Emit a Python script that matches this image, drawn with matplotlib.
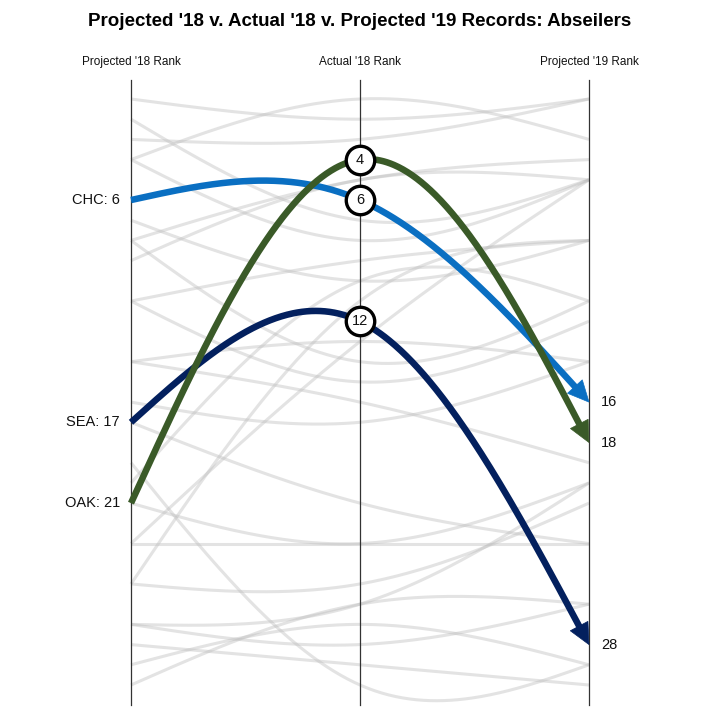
import numpy as np
import matplotlib
matplotlib.use("Agg")
import matplotlib.pyplot as plt
from matplotlib.patches import Polygon

plt.rcParams['font.family'] = ['Liberation Sans', 'DejaVu Sans']

title = "Projected '18 v. Actual '18 v. Projected '19 Records: Abseilers"
axis_labels = ["Projected '18 Rank", "Actual '18 Rank", "Projected '19 Rank"]

# highlighted teams
hl_teams = ["CHC", "SEA", "OAK"]
hl_proj18 = [6, 17, 21]
hl_act18 = [6, 12, 4]
hl_proj19 = [16, 28, 18]
hl_colors = ["#0a6fc2", "#03205e", "#3a5a28"]

# background teams (projected '18, actual '18, projected '19)
bg_proj18 = [1, 2, 3, 4, 4, 7, 8, 8, 9, 11, 11, 14, 14, 16, 17, 19, 20, 21, 23, 23, 25, 25, 27, 27, 28, 29, 30]
bg_act18 = [2, 7, 3, 1, 8, 10, 5, 14, 5, 9, 15, 13, 16, 17, 21, 30, 10, 23, 23, 13, 25, 11, 28, 26, 29, 27, 26]
bg_proj19 = [1, 5, 1, 3, 5, 8, 4, 11, 5, 8, 12, 14, 19, 14, 23, 29, 11, 20, 23, 5, 21, 8, 26, 20, 30, 29, 26]


def natural_spline(ys, n=200):
    ys = np.asarray(ys, float)
    k = len(ys)
    A = np.zeros((k, k))
    b = np.zeros(k)
    A[0, 0] = 1
    A[-1, -1] = 1
    for i in range(1, k - 1):
        A[i, i - 1] = 1
        A[i, i] = 4
        A[i, i + 1] = 1
        b[i] = 6 * (ys[i - 1] - 2 * ys[i] + ys[i + 1])
    M = np.linalg.solve(A, b)
    xx = np.linspace(0, k - 1, n)
    yy = np.empty_like(xx)
    for j, x in enumerate(xx):
        i = min(int(np.floor(x)), k - 2)
        t = x - i
        yy[j] = (M[i] * (1 - t) ** 3 / 6 + M[i + 1] * t ** 3 / 6
                 + (ys[i] - M[i] / 6) * (1 - t) + (ys[i + 1] - M[i + 1] / 6) * t)
    return xx, yy


W = H = 720
fig = plt.figure(figsize=(7.2, 7.2), dpi=100)
ax = fig.add_axes([0, 0, 1, 1])
px0, px_step = 131, 229.0
py0, py_step = 99, 20.207
ax.set_xlim(-px0 / px_step, (W - px0) / px_step)
ax.set_ylim(1 + (H - py0) / py_step, 1 - py0 / py_step)
ax.axis('off')

# axes lines
top_r = 1 + (80 - py0) / py_step
bot_r = 1 + (705 - py0) / py_step
for i in range(3):
    ax.plot([i, i], [top_r, bot_r], color='#333333', lw=0.9, zorder=2)

# header labels
for i, lab in enumerate(axis_labels):
    ax.text(i, 1 + (62 - py0) / py_step, lab, ha='center', va='center', fontsize=8.5, color='#111111')

fig.text(0.5, 1 - 22 / H, title, ha='center', va='center', fontsize=13.5, fontweight='bold')

# background lines
for a, b, c in zip(bg_proj18, bg_act18, bg_proj19):
    xx, yy = natural_spline([a, b, c])
    ax.plot(xx, yy, color='#bdbdbd', alpha=0.42, lw=2.2, zorder=1, solid_capstyle='butt')

fig.canvas.draw()
to_disp = ax.transData
to_data = ax.transData.inverted()

head_len, head_w = 21, 20
for team, a, b, c, col in zip(hl_teams, hl_proj18, hl_act18, hl_proj19, hl_colors):
    xx, yy = natural_spline([a, b, c], n=400)
    pts = to_disp.transform(np.column_stack([xx, yy]))
    tip = pts[-1]
    d = np.hypot(pts[:, 0] - tip[0], pts[:, 1] - tip[1])
    keep = d > head_len * 0.6
    base_idx = np.where(d > head_len)[0][-1]
    v = tip - pts[base_idx]
    v = v / np.hypot(*v)
    nrm = np.array([-v[1], v[0]])
    base = tip - head_len * v
    tri = np.array([tip, base + nrm * head_w / 2, base - nrm * head_w / 2])
    tri_d = to_data.transform(tri)
    ax.plot(xx[keep], yy[keep], color=col, lw=4.7, zorder=4, solid_capstyle='butt')
    ax.add_patch(Polygon(tri_d, closed=True, facecolor=col, edgecolor=col, lw=0.5, zorder=4))
    ax.text(-11 / px_step, a, f"{team}: {a}", ha='right', va='center', fontsize=10.5, color='#111111')
    ax.text(2 + 12 / px_step, c, f"{c}", ha='left', va='center', fontsize=10.5, color='#111111')
    ax.plot([1], [b], marker='o', markersize=20.5, markerfacecolor='white',
            markeredgecolor='black', markeredgewidth=2.4, zorder=6)
    ax.text(1, b, f"{b}", ha='center', va='center', fontsize=10.5, color='#111111', zorder=7)

fig.savefig("out.png", dpi=100)
